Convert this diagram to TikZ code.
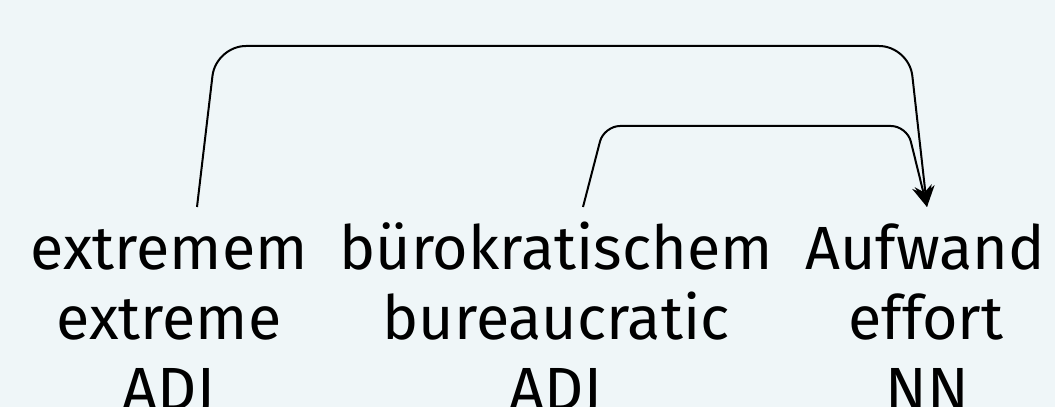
\documentclass[tikz,border=0pt]{standalone}
\usepackage{fontspec}
\setmainfont{Fira Sans}
\usetikzlibrary{calc,arrows.meta}
\definecolor{bgcol}{HTML}{EFF6F8}
\tikzset{
  word/.style={anchor=base, inner sep=0pt, font=\fontsize{61}{70}\selectfont},
  dep/.style={line width=2pt, draw=black, -{Stealth[length=21pt,width=20pt,inset=7pt]}},
}
\begin{document}
\begin{tikzpicture}[x=1pt,y=1pt]
\fill[bgcol] (0,0) rectangle (1055,407);
\useasboundingbox (0,0) rectangle (1055,407);
% column 1
\node[word] (w1) at (169,137) {extremem};
\node[word] (g1) at (169,67) {extreme};
\node[word] (p1) at (169,-3) {ADJ};
% column 2
\node[word] (w2) at (556,137) {bürokratischem};
\node[word] (g2) at (556,67) {bureaucratic};
\node[word] (p2) at (556,-3) {ADJ};
% column 3
\node[word] (w3) at (925,137) {Aufwand};
\node[word] (g3) at (926,67) {effort};
\node[word] (p3) at (927,-3) {NN};
% dependency arcs
\draw[dep, rounded corners=30pt]
  ($(w1.base)+(28,63)$) -- ($(w1.base)+(47,224)$) -- ($(w3.base)+(-16,224)$) -- ($(w3.base)+(2,63)$);
\draw[dep, rounded corners=16pt]
  ($(w2.base)+(27,63)$) -- ($(w2.base)+(48,144)$) -- ($(w3.base)+(-18,144)$) -- ($(w3.base)+(2,63)$);
\end{tikzpicture}
\end{document}
